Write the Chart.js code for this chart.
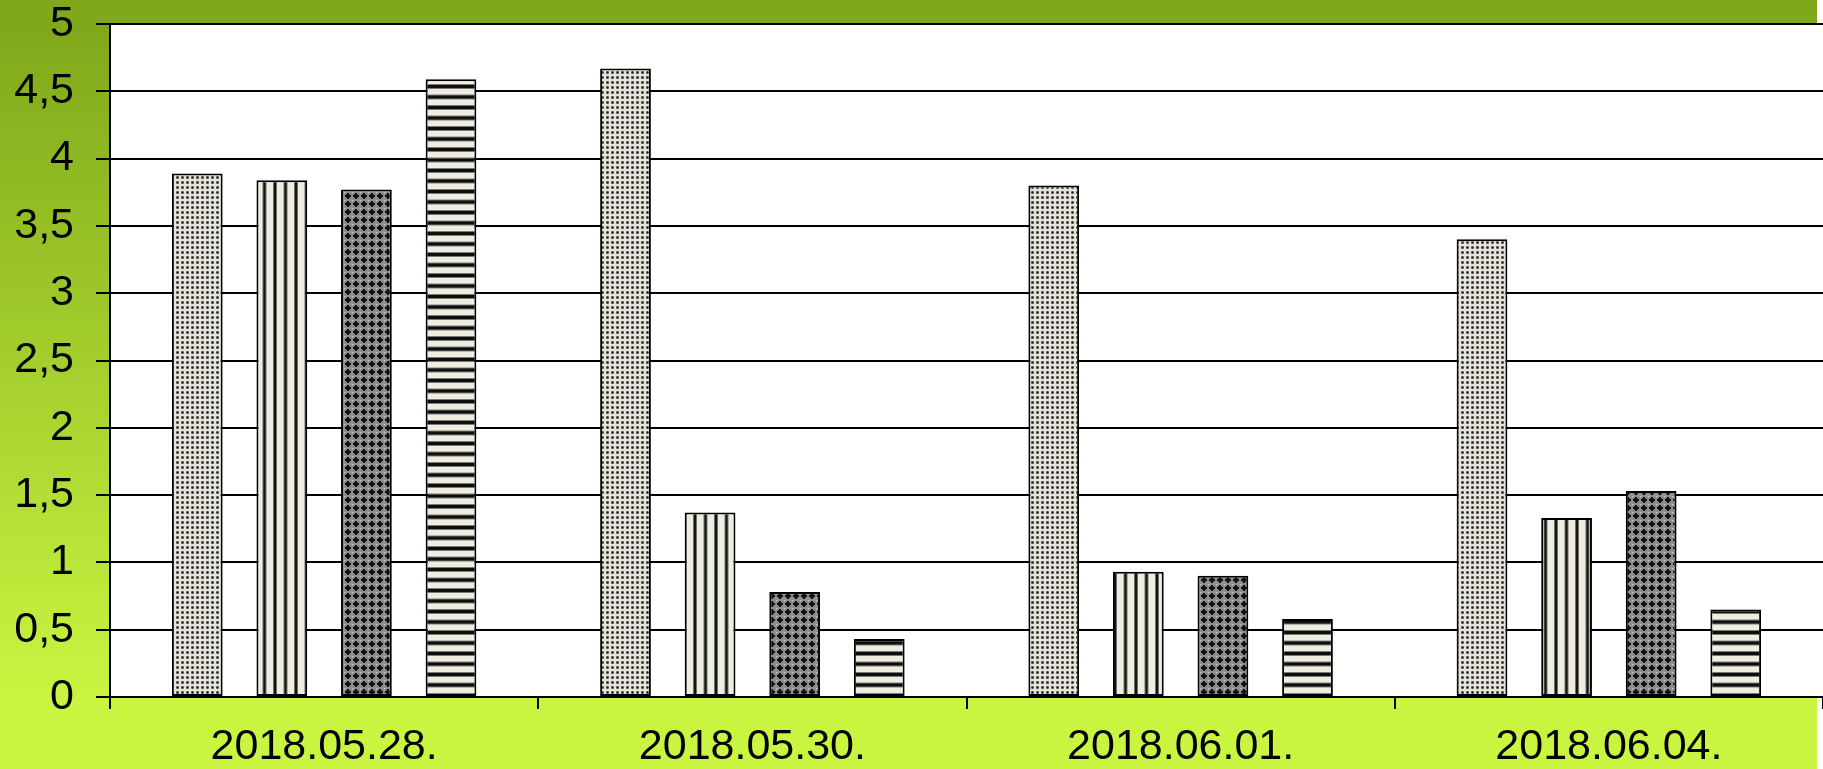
<!DOCTYPE html>
<html>
<head>
<meta charset="utf-8">
<script src="https://cdn.jsdelivr.net/npm/chart.js@4/dist/chart.umd.min.js"></script>
<style>
  html, body { margin: 0; padding: 0; }
  body {
    width: 1823px; height: 769px; overflow: hidden;
    background:
      linear-gradient(to right, rgba(255,255,255,0) 1817px, #ffffff 1817px),
      linear-gradient(to bottom, #7fa81a 0px, #7fa81a 22px, #c9f541 700px, #c9f541 769px);
  }
  #c { position: absolute; left: 0; top: 0; }
</style>
</head>
<body>
<canvas id="c" width="1823" height="769"></canvas>
<script>
// ---- data ----
const categories = ['2018.05.28.', '2018.05.30.', '2018.06.01.', '2018.06.04.'];
const series1 = [3.89, 4.67, 3.80, 3.40];
const series2 = [3.84, 1.37, 0.93, 1.33];
const series3 = [3.77, 0.78, 0.90, 1.53];
const series4 = [4.59, 0.43, 0.58, 0.65];
const yTickLabels = ['0', '0,5', '1', '1,5', '2', '2,5', '3', '3,5', '4', '4,5', '5'];

// ---- fill patterns ----
function tile(w, h, draw) {
  const cv = document.createElement('canvas');
  cv.width = w; cv.height = h;
  const g = cv.getContext('2d');
  draw(g);
  return document.getElementById('c').getContext('2d').createPattern(cv, 'repeat');
}
const patDots = tile(5, 5, g => {
  g.fillStyle = '#e6e4da'; g.fillRect(0, 0, 5, 5);
  g.fillStyle = '#8a8984'; g.fillRect(1, 1, 3, 3);
  g.fillStyle = '#222222'; g.fillRect(2, 2, 1, 1);
  g.fillStyle = '#4a4a48'; g.fillRect(2, 1, 1, 1); g.fillRect(1, 2, 1, 1);
  g.fillRect(3, 2, 1, 1); g.fillRect(2, 3, 1, 1);
});
const patVert = tile(21, 4, g => {
  g.fillStyle = '#efece2'; g.fillRect(0, 0, 21, 4);
  g.fillStyle = '#6e6e6a'; g.fillRect(0, 0, 4, 4); g.fillRect(10.5, 0, 4, 4);
  g.fillStyle = '#141414'; g.fillRect(1, 0, 2, 4); g.fillRect(11.5, 0, 2, 4);
});
const patHorz = tile(4, 21, g => {
  g.fillStyle = '#efece2'; g.fillRect(0, 0, 4, 21);
  g.fillStyle = '#7a7a76'; g.fillRect(0, 0, 4, 5); g.fillRect(0, 10.5, 4, 5);
  g.fillStyle = '#0e0e0e'; g.fillRect(0, 1, 4, 3); g.fillRect(0, 11.5, 4, 3);
});
const patDiam = tile(8, 8, g => {
  g.fillStyle = '#8e8e8c'; g.fillRect(0, 0, 8, 8);
  g.fillStyle = '#111111';
  g.fillRect(3, 1, 2, 6); g.fillRect(1, 3, 6, 2);
  g.fillStyle = '#3a3a3a';
  g.fillRect(2, 2, 1, 1); g.fillRect(5, 2, 1, 1); g.fillRect(2, 5, 1, 1); g.fillRect(5, 5, 1, 1);
  g.fillStyle = '#d8d8d4';
  g.fillRect(0, 0, 1, 1);
});

const plotBg = {
  id: 'plotBg',
  beforeDraw(chart) {
    const a = chart.chartArea, ctx = chart.ctx;
    ctx.save();
    ctx.fillStyle = '#ffffff';
    ctx.fillRect(a.left, a.top, chart.width - a.left, a.bottom - a.top);
    ctx.restore();
  }
};

const font = { family: 'Liberation Sans, Arial, sans-serif', size: 43 };
const common = { borderColor: '#000', borderWidth: 2, borderSkipped: false,
                 categoryPercentage: 0.79, barPercentage: 0.6 };

new Chart(document.getElementById('c'), {
  type: 'bar',
  data: {
    labels: categories,
    datasets: [
      Object.assign({ label: 'S1', data: series1, backgroundColor: patDots }, common),
      Object.assign({ label: 'S2', data: series2, backgroundColor: patVert }, common),
      Object.assign({ label: 'S3', data: series3, backgroundColor: patDiam }, common),
      Object.assign({ label: 'S4', data: series4, backgroundColor: patHorz }, common)
    ]
  },
  options: {
    responsive: false,
    animation: false,
    events: [],
    layout: { padding: { top: 24, right: 0, left: 0, bottom: 0 } },
    plugins: { legend: { display: false }, tooltip: { enabled: false }, title: { display: false } },
    scales: {
      x: {
        offset: true,
        grid: { display: true, drawOnChartArea: false, drawTicks: true, tickLength: 12,
                color: '#000', lineWidth: 2, offset: true },
        border: { display: true, color: '#000', width: 2 },
        ticks: { color: '#000', font: font, padding: 12, maxRotation: 0, autoSkip: false },
        afterFit(s) { s.height = 72; s.paddingLeft = 0; s.paddingRight = 0; }
      },
      y: {
        min: 0, max: 5,
        grid: { color: '#000', lineWidth: 2, tickLength: 14, tickColor: '#000' },
        border: { display: true, color: '#000', width: 2 },
        ticks: { stepSize: 0.5, color: '#000', font: font, padding: 22,
                 callback: (v, i) => yTickLabels[i] },
        afterFit(s) { s.width = 110; s.paddingTop = 0; s.paddingBottom = 0; }
      }
    }
  },
  plugins: [plotBg]
});
</script>
</body>
</html>
